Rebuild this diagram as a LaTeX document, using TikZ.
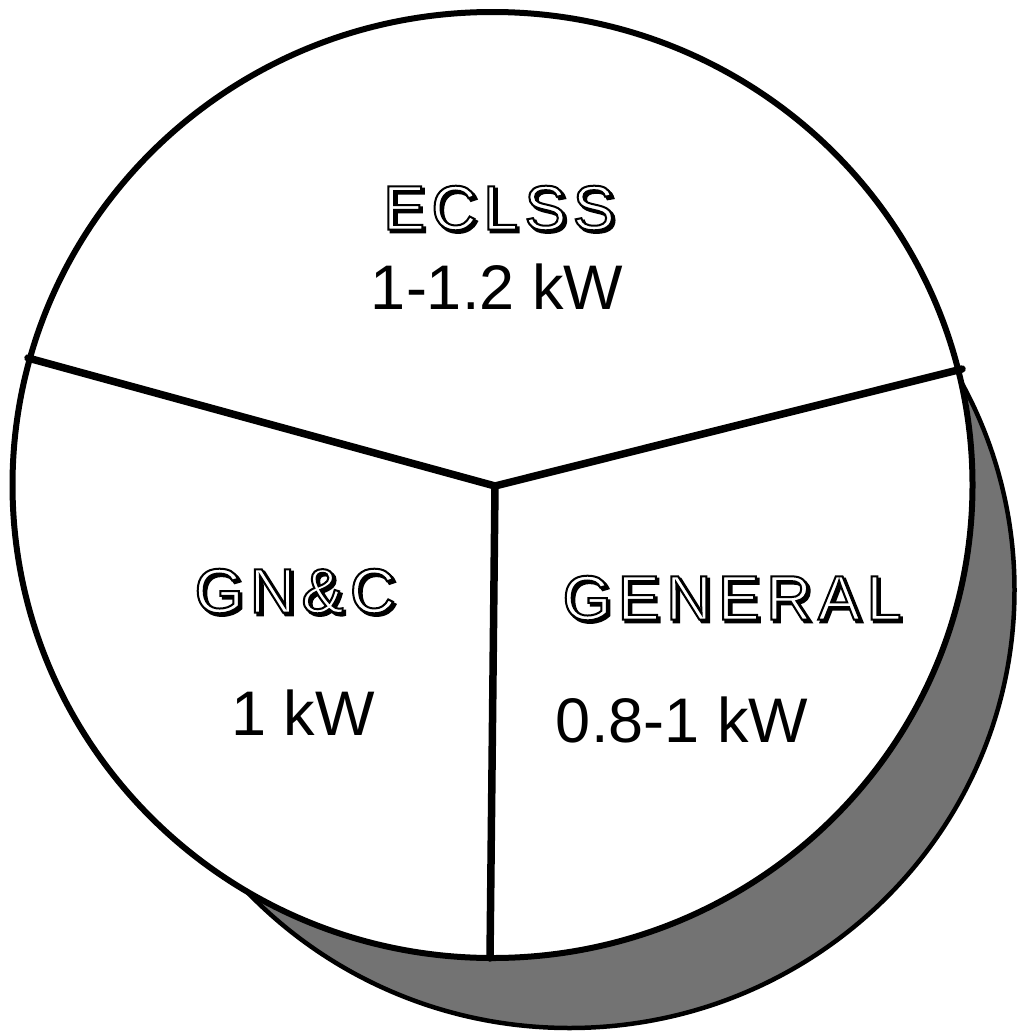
\documentclass[tikz,border=0pt]{standalone}
\usepackage{fontspec}
\setmainfont{Liberation Sans}
\newfontfamily\spacedfont[LetterSpace=10]{Liberation Sans}
\usetikzlibrary{calc}
\tikzset{
  rim/.style={draw=black, line width=6pt},
  divider/.style={draw=black, line width=7.5pt, line cap=round, line join=miter},
  shade/.style={draw=black, line width=4.5pt, fill=black!55},
  valuetext/.style={inner sep=0pt, font=\fontsize{63}{70}\selectfont},
  hollowtext/.style={inner sep=0pt, font=\spacedfont\fontsize{63}{70}\selectfont},
}
% outlined (hollow) text with a drop shadow
\newcommand\strokedtext[2]{\special{pdf:code q 2 Tr #1 w 0 G}#2\special{pdf:code Q}}
\newcommand\hollowlabel[3]{%
  \node[hollowtext, text=black] (#1s) at ($(#2)+(2.5,2.5)$) {\strokedtext{2.2}{#3}};
  \node[hollowtext, text=white] (#1) at (#2) {\strokedtext{2}{#3}};
}
\begin{document}
\begin{tikzpicture}[x=1pt,y=-1pt]
\useasboundingbox (0,0) rectangle (1022,1036);
% shadow disc
\draw[shade] (569.5,590) ellipse [x radius=445, y radius=438];
% main disc
\draw[rim, fill=white] (492.5,485) ellipse [x radius=480, y radius=473];
% hub and rim points
\coordinate (hub) at (495,486);
\coordinate (pl) at (28,358);
\coordinate (pr) at (962,369);
\coordinate (pb) at (490,958);
\draw[divider] (pl) -- (hub) -- (pr);
\draw[divider] (hub) -- (pb);
% labels
\coordinate (eclssc) at (499,208);
\coordinate (gncc) at (295,591);
\coordinate (genc) at (732,598);
\hollowlabel{eclss}{eclssc}{ECLSS}
\hollowlabel{gnc}{gncc}{GN\&C}
\hollowlabel{general}{genc}{GENERAL}
\node[valuetext] (eclssv) at (497,287) {1-1.2 kW};
\node[valuetext] (gncv) at (303,713) {1 kW};
\node[valuetext] (generalv) at (682,720) {0.8-1 kW};
\end{tikzpicture}
\end{document}
